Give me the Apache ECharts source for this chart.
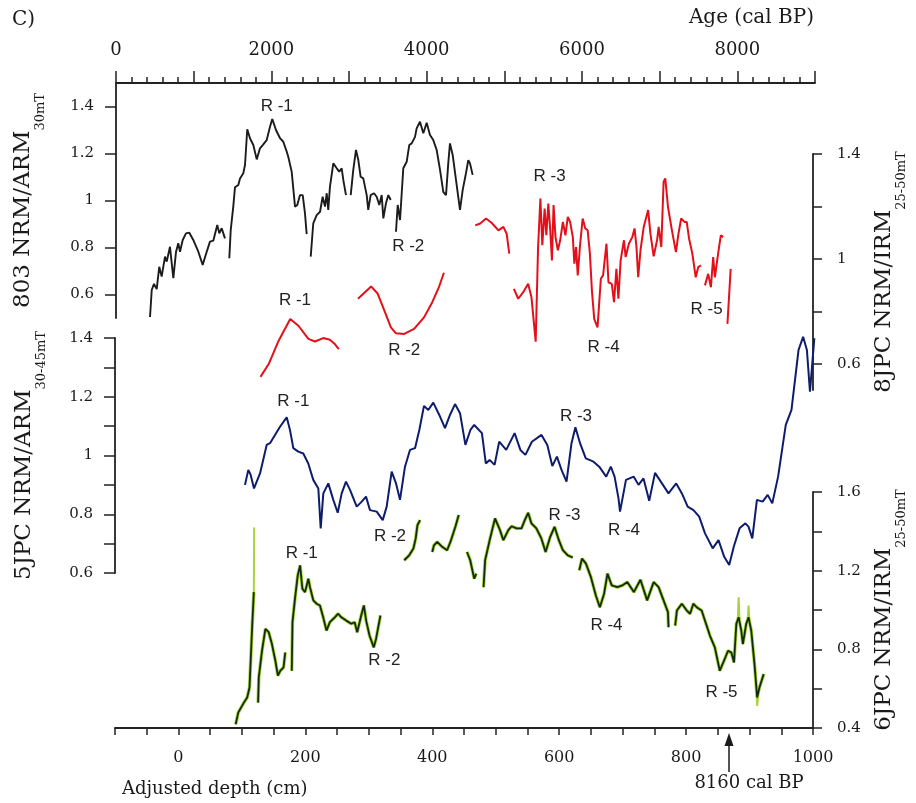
<!DOCTYPE html>
<html><head><meta charset="utf-8">
<script src="https://cdn.jsdelivr.net/npm/echarts@6/dist/echarts.min.js"></script>
<style>html,body{margin:0;padding:0;background:#fff}#c{width:916px;height:803px}</style>
</head><body><div id="c"></div>
<script>
// ---- tick values ----
const ageLabels = [0, 2000, 4000, 6000, 8000];
const depthLabels = [0, 200, 400, 600, 800, 1000];
const y803Ticks = [0.6, 0.8, 1, 1.2, 1.4];
const y8Ticks = [0.6, 0.8, 1, 1.2, 1.4];
const y8Labels = [0.6, 1, 1.4];
const y5Ticks = [0.6, 0.7, 0.8, 0.9, 1, 1.1, 1.2, 1.3, 1.4];
const y5Labels = [0.6, 0.8, 1, 1.2, 1.4];
const y6Ticks = [0.4, 0.6, 0.8, 1, 1.2, 1.4, 1.6];
const y6Labels = [0.4, 0.8, 1.2, 1.6];

// ---- 803 NRM/ARM30mT vs age (cal BP); null = gap ----
const core803 = [[438,0.504],[460,0.619],[489,0.645],[524,0.623],[557,0.718],[588,0.676],[631,0.761],[653,0.740],[695,0.803],[717,0.806],[738,0.670],[773,0.782],[802,0.818],[824,0.782],[859,0.832],[901,0.860],[944,0.863],[995,0.832],[1060,0.782],[1116,0.726],[1175,0.789],[1210,0.825],[1253,0.829],[1304,0.896],[1330,0.860],[1361,0.882],[1403,0.839],null,
[1459,0.754],[1477,0.874],[1510,0.974],[1532,1.056],[1575,1.066],[1597,1.094],[1639,1.116],[1661,1.151],[1690,1.303],[1725,1.265],[1768,1.236],[1812,1.175],[1854,1.222],[1889,1.236],[1940,1.257],[1983,1.314],[2012,1.347],[2060,1.300],[2112,1.265],[2154,1.250],[2198,1.208],[2218,1.186],[2262,1.123],[2305,0.974],[2334,0.981],[2369,1.023],[2404,1.023],[2433,0.946],[2455,0.857],null,
[2507,0.761],[2540,0.903],[2584,0.938],[2627,0.952],[2661,1.016],[2691,0.974],[2713,1.031],[2733,0.960],[2755,1.059],[2798,1.158],[2842,1.137],[2875,1.123],[2906,1.137],[2927,1.087],[2961,1.023],null,
[3022,1.023],[3055,1.130],[3090,1.215],[3120,1.172],[3150,1.101],[3184,1.094],[3228,1.023],[3248,0.960],[3279,1.023],[3322,1.031],[3356,1.016],[3390,0.981],[3421,1.023],[3442,0.924],[3476,0.988],[3506,1.023],[3537,1.002],null,
[3605,0.867],[3627,0.981],[3657,0.917],[3699,1.137],[3743,1.165],[3776,1.236],[3807,1.243],[3850,1.271],[3871,1.307],[3914,1.335],[3957,1.286],[4000,1.331],[4043,1.279],[4085,1.257],[4129,1.215],[4172,1.130],[4214,1.037],[4249,1.023],[4278,1.158],[4300,1.243],[4335,1.194],[4378,1.087],[4429,0.960],[4464,1.045],[4506,1.116],[4536,1.172],[4558,1.158],[4592,1.109]];

// ---- 8JPC NRM/IRM25-50mT vs age ----
const core8JPC = [[1876,0.550],[1983,0.599],[2112,0.688],[2240,0.758],[2262,0.771],[2369,0.745],[2498,0.695],[2584,0.685],[2691,0.698],[2777,0.692],[2842,0.675],[2893,0.656],null,
[3142,0.848],[3313,0.895],[3399,0.867],[3485,0.803],[3570,0.739],[3635,0.716],[3743,0.714],[3871,0.733],[4000,0.777],[4107,0.835],[4193,0.892],[4258,0.947],null,
[4665,1.128],[4729,1.135],[4806,1.154],[4880,1.137],[4966,1.109],[5030,1.122],[5073,1.096],[5107,1.020],null,
[5167,0.886],[5223,0.848],[5288,0.873],[5352,0.905],[5395,0.854],[5450,0.684],[5481,1.045],[5511,1.230],[5536,1.052],[5566,1.192],[5588,1.090],[5614,1.211],[5639,1.109],[5661,0.994],[5682,1.205],[5707,1.083],[5738,1.033],[5768,1.071],[5803,1.141],[5836,1.090],[5867,1.160],[5897,1.141],[5932,1.083],[5952,0.982],[5974,1.045],[5996,0.937],[6026,1.052],[6060,1.154],[6094,1.116],[6125,1.109],[6154,1.020],[6180,0.879],[6210,0.771],[6253,0.739],[6274,0.829],[6296,0.924],[6325,0.937],[6369,1.058],[6395,0.911],[6438,0.905],[6467,0.835],[6498,0.962],[6524,0.848],[6553,0.994],[6596,1.071],[6618,1.007],[6660,1.058],[6704,1.083],[6734,1.116],[6759,1.045],[6781,0.930],[6811,1.033],[6853,1.122],[6910,1.186],[6940,1.096],[6982,1.010],[7026,1.071],[7047,1.122],[7081,1.045],[7111,1.294],[7133,1.307],[7168,1.198],[7219,1.109],[7271,1.026],[7304,1.096],[7339,1.154],[7381,1.141],[7411,1.141],[7442,1.077],[7484,1.020],[7528,0.930],[7561,0.969],[7596,0.975],null,
[7648,0.899],[7690,0.943],[7725,0.892],[7755,1.007],[7777,0.930],[7819,1.020],[7854,1.090],[7884,1.083],null,
[7940,0.752],[7982,0.962]];

// ---- 5JPC NRM/ARM30-45mT vs adjusted depth (cm) ----
const core5JPC = [[103.1,0.900],[108.3,0.951],[112.0,0.934],[117.2,0.888],[126.6,0.939],[137.0,1.036],[142.2,1.042],[150.0,1.070],[157.8,1.098],[168.3,1.130],[173.4,1.087],[178.6,1.025],[186.4,1.013],[194.2,1.007],[202.0,0.973],[209.8,0.917],[217.7,0.888],[221.4,0.752],[225.5,0.871],[233.3,0.905],[241.1,0.849],[248.0,0.805],[254.2,0.871],[260.9,0.911],[267.2,0.883],[277.7,0.826],[285.5,0.843],[292.2,0.860],[298.4,0.814],[308.9,0.809],[318.3,0.780],[324.5,0.826],[332.3,0.945],[339.1,0.905],[345.3,0.849],[353.1,0.962],[360.9,1.019],[368.8,1.025],[375.5,1.087],[382.8,1.169],[389.5,1.155],[397.3,1.180],[406.7,1.138],[415.6,1.093],[423.4,1.138],[431.3,1.175],[439.1,1.144],[447.5,1.036],[455.3,1.087],[461.3,1.104],[473.3,1.076],[479.4,0.973],[485.3,0.985],[493.1,0.968],[500.3,1.047],[511.3,1.019],[524.4,1.076],[533.4,1.019],[541.3,1.002],[551.4,1.047],[566.4,1.070],[575.5,1.036],[583.3,0.964],[590.5,0.996],[597.7,0.951],[605.5,0.911],[613.3,1.042],[619.4,1.096],[626.6,1.042],[635.6,0.990],[647.7,0.979],[656.6,0.962],[667.5,0.928],[674.7,0.962],[680.6,0.928],[686.7,0.854],[689.1,0.809],[698.4,0.917],[710.6,0.928],[718.0,0.900],[725.8,0.922],[734.7,0.846],[743.8,0.941],[752.8,0.911],[764.8,0.871],[776.9,0.905],[785.8,0.871],[794.8,0.826],[803.9,0.814],[812.8,0.792],[821.9,0.735],[833.9,0.684],[843.0,0.712],[851.9,0.655],[859.7,0.627],[866.9,0.690],[875.9,0.752],[885.0,0.769],[889.8,0.758],[895.8,0.718],[903.0,0.849],[912.0,0.843],[919.8,0.866],[927.0,0.837],[936.1,0.928],[948.1,1.104],[957.0,1.155],[968.0,1.359],[975.2,1.404],[981.1,1.359],[985.9,1.217],[992.7,1.399]];

// ---- 6JPC NRM/IRM25-50mT vs adjusted depth (cm) ----
const core6JPC = [[90.2,0.419],[94.2,0.478],[103.1,0.529],[108.3,0.555],[112.0,0.606],[116.1,0.912],[118.8,1.091],null,
[125.5,0.529],[126.6,0.657],[131.7,0.793],[137.0,0.904],[142.2,0.887],[147.3,0.827],[152.7,0.742],[156.7,0.666],[160.5,0.691],[165.6,0.708],[168.3,0.784],null,
[178.6,0.691],[179.7,0.938],[183.9,1.065],[188.0,1.176],[191.7,1.227],[195.3,1.108],[199.5,1.091],[204.7,1.159],[207.3,1.116],[212.5,1.049],[217.7,1.032],[223.0,1.023],[228.1,0.963],[233.3,0.895],[238.6,0.938],[246.4,0.963],[251.6,0.981],[256.7,0.963],[264.5,0.946],[272.3,0.930],[277.7,0.938],[281.7,0.887],[288.0,0.972],[292.2,1.023],[295.8,0.946],[301.1,0.870],[307.8,0.810],[311.4,0.853],[318.3,0.972],null,
[355.8,1.253],[363.6,1.278],[370.3,1.313],[373.9,1.364],[376.6,1.431],[380.8,1.457],null,
[400.0,1.295],[402.7,1.329],[407.8,1.346],[415.6,1.321],[423.4,1.304],[428.6,1.346],[436.4,1.423],[441.7,1.483],null,
[454.7,1.295],[459.8,1.253],[466.1,1.159],[469.2,1.185],null,
[480.8,1.116],[483.3,1.253],[491.1,1.364],[498.9,1.466],[506.7,1.406],[512.0,1.355],[519.8,1.406],[525.0,1.426],[532.8,1.415],[540.6,1.415],[545.8,1.457],[551.1,1.494],[556.3,1.440],[564.1,1.415],[571.9,1.364],[578.6,1.295],[585.9,1.372],[592.7,1.423],[599.5,1.355],[605.8,1.304],[613.6,1.278],[621.4,1.267],null,
[631.7,1.202],[635.9,1.261],[642.2,1.236],[650.0,1.167],[657.8,1.074],[664.1,1.014],[670.8,1.083],[676.1,1.185],[682.8,1.125],[691.7,1.116],[699.5,1.125],[707.3,1.142],[717.7,1.091],[728.1,1.154],[738.6,1.049],[748.9,1.142],[756.7,1.116],[764.5,1.049],[771.4,0.989],[772.3,0.912],null,
[782.8,0.921],[785.5,0.997],[793.3,1.032],[801.1,0.997],[806.3,0.981],[811.4,1.032],[816.7,1.014],[824.5,0.997],[832.3,0.921],[837.5,0.870],[845.3,0.810],[853.1,0.691],[860.9,0.751],[866.1,0.793],[871.4,0.784],[875.5,0.733],[879.2,0.930],[882.8,0.963],[887.0,0.895],[889.5,0.827],[894.8,0.930],[898.4,0.963],[902.7,0.895],[907.8,0.725],[912.0,0.555],[915.6,0.606],[922.3,0.674]];
// light-green (individual measurement) excursions beyond the dark line
const core6JPCSpikes = [[118.8,1.091],[119.3,1.42],null,[881.5,0.95],[882.8,1.065],[884.5,0.93],null,[897.2,0.95],[898.4,1.023],[899.8,0.95],null,[910.8,0.60],[912.0,0.512],[913.4,0.56]];

// ---- R labels: [text, x, value] ----
const labels803 = [['R -1',2069,1.402],['R -2',3763,0.806]];
const labels8JPC = [['R -1',2324,0.841],['R -2',3743,0.650],['R -3',5630,1.316],['R -4',6331,0.662],['R -5',7670,0.806]];
const labels5JPC = [['R -1',178.6,1.183],['R -2',329.7,0.724],['R -3',620.3,1.134],['R -4',695.3,0.746],['R -5',842.7,0.582]];
const labels6JPC = [['R -1',194.2,1.287],['R -2',324.5,0.742],['R -3',608.3,1.483],['R -4',674.5,0.921],['R -5',855.8,0.580]];

const SERIF = 'DejaVu Serif';
const INK = '#1a1a1a';
const gapped = a => a.map(p => p ? p : ['-', '-']);
const marks = list => ({
  symbol: 'rect', symbolSize: 1, silent: true, animation: false,
  itemStyle: { color: 'rgba(0,0,0,0)' },
  label: { show: true, position: 'inside', formatter: '{b}', fontFamily: 'Liberation Sans', fontSize: 17, color: '#222' },
  data: list.map(l => ({ name: l[0], coord: [l[1], l[2]] }))
});
const nameRich = {
  a: { fontFamily: SERIF, fontSize: 23, color: INK, lineHeight: 24, verticalAlign: 'top' },
  b: { fontFamily: SERIF, fontSize: 13, color: INK, padding: [22, 0, 0, 0], verticalAlign: 'bottom' }
};
const axLine = { show: true, onZero: false, lineStyle: { color: '#222', width: 1.8 } };
const tickStyle = { color: '#222', width: 1.5 };
const lblStyle = (size, margin, values) => ({ show: true, fontFamily: SERIF, fontSize: size, color: INK, margin: margin,
  customValues: values, formatter: v => String(+v.toFixed(2)) });
const hiddenX = (grid, min, max) => ({ type: 'value', gridIndex: grid, min: min, max: max, show: false,
  axisLine: { onZero: false }, splitLine: { show: false } });

const option = {
  animation: false,
  backgroundColor: '#fff',
  grid: [
    { left: 116, right: 101, top: 83, height: 235 },
    { left: 116, right: 97, top: 154, height: 236 },
    { left: 115, right: 97, top: 338, height: 235 },
    { left: 115, right: 97, top: 492, height: 236 }
  ],
  xAxis: [
    { type: 'value', gridIndex: 0, position: 'top', min: 0, max: 9000, interval: 1000,
      axisLine: axLine, axisTick: { show: true, length: 12, lineStyle: tickStyle },
      minorTick: { show: true, splitNumber: 5, length: 6, lineStyle: tickStyle },
      axisLabel: lblStyle(18, 24, ageLabels), splitLine: { show: false }, minorSplitLine: { show: false } },
    hiddenX(1, 0, 9051),
    hiddenX(2, -100, 1000),
    { type: 'value', gridIndex: 3, position: 'bottom', min: -100, max: 1000, interval: 50,
      axisLine: axLine, axisTick: { show: true, length: 7, lineStyle: tickStyle },
      axisLabel: lblStyle(16, 22, depthLabels), splitLine: { show: false } }
  ],
  yAxis: [
    { type: 'value', gridIndex: 0, position: 'left', min: 0.5, max: 1.5,
      axisLine: axLine, axisTick: { show: true, length: 11, lineStyle: tickStyle, customValues: y803Ticks },
      axisLabel: lblStyle(15, 22, y803Ticks), splitLine: { show: false },
      name: '{a|803 NRM/ARM}{b|30mT}', nameLocation: 'middle', nameRotate: 90, nameGap: 69,
      nameTextStyle: { rich: nameRich } },
    { type: 'value', gridIndex: 1, position: 'right', min: 0.5, max: 1.4,
      axisLine: axLine, axisTick: { show: true, length: 9, lineStyle: tickStyle, customValues: y8Ticks },
      axisLabel: lblStyle(15, 24, y8Labels), splitLine: { show: false },
      name: '{a|8JPC NRM/IRM}{b|25-50mT}', nameLocation: 'middle', nameRotate: 90, nameGap: 60,
      nameTextStyle: { rich: nameRich } },
    { type: 'value', gridIndex: 2, position: 'left', min: 0.6, max: 1.4,
      axisLine: axLine, axisTick: { show: true, length: 11, lineStyle: tickStyle, customValues: y5Ticks },
      axisLabel: lblStyle(15, 22, y5Labels), splitLine: { show: false },
      name: '{a|5JPC NRM/ARM}{b|30-45mT}', nameLocation: 'middle', nameRotate: 90, nameGap: 67,
      nameTextStyle: { rich: nameRich } },
    { type: 'value', gridIndex: 3, position: 'right', min: 0.4, max: 1.6,
      axisLine: axLine, axisTick: { show: true, length: 9, lineStyle: tickStyle, customValues: y6Ticks },
      axisLabel: lblStyle(15, 24, y6Labels), splitLine: { show: false },
      name: '{a|6JPC NRM/IRM}{b|25-50mT}', nameLocation: 'middle', nameRotate: 90, nameGap: 60,
      nameTextStyle: { rich: nameRich } }
  ],
  series: [
    { type: 'line', name: '803', xAxisIndex: 0, yAxisIndex: 0, data: gapped(core803), showSymbol: false, clip: false,
      lineStyle: { color: '#1c1c1c', width: 1.9 }, markPoint: marks(labels803) },
    { type: 'line', name: '8JPC', xAxisIndex: 1, yAxisIndex: 1, data: gapped(core8JPC), showSymbol: false, clip: false,
      lineStyle: { color: '#e3101a', width: 2 }, markPoint: marks(labels8JPC) },
    { type: 'line', name: '5JPC', xAxisIndex: 2, yAxisIndex: 2, data: gapped(core5JPC), showSymbol: false, clip: false,
      lineStyle: { color: '#0e1c6e', width: 2 }, markPoint: marks(labels5JPC) },
    { type: 'line', name: '6JPC light', xAxisIndex: 3, yAxisIndex: 3, data: gapped(core6JPC), showSymbol: false, clip: false,
      lineStyle: { color: '#a9d23c', width: 3.4 } },
    { type: 'line', name: '6JPC spikes', xAxisIndex: 3, yAxisIndex: 3, data: gapped(core6JPCSpikes), showSymbol: false, clip: false,
      lineStyle: { color: '#a9d23c', width: 2 } },
    { type: 'line', name: '6JPC', xAxisIndex: 3, yAxisIndex: 3, data: gapped(core6JPC), showSymbol: false, clip: false,
      lineStyle: { color: '#102c10', width: 1.8 }, markPoint: marks(labels6JPC) }
  ],
  graphic: [
    { type: 'text', x: 12, y: 20, style: { text: 'C)', font: '20px "DejaVu Serif"', fill: INK, textVerticalAlign: 'middle' } },
    { type: 'text', x: 814, y: 18, style: { text: 'Age (cal BP)', font: '20px "DejaVu Serif"', fill: INK, textAlign: 'right', textVerticalAlign: 'middle' } },
    { type: 'text', x: 122, y: 789, style: { text: 'Adjusted depth (cm)', font: '18px "DejaVu Serif"', fill: INK, textVerticalAlign: 'middle' } },
    { type: 'text', x: 749, y: 783, style: { text: '8160 cal BP', font: '18px "DejaVu Serif"', fill: INK, textAlign: 'center', textVerticalAlign: 'middle' } },
    { type: 'line', shape: { x1: 729, y1: 743, x2: 729, y2: 772 }, style: { stroke: INK, lineWidth: 1.5 } },
    { type: 'polygon', shape: { points: [[729, 733], [724.5, 746], [733.5, 746]] }, style: { fill: INK } }
  ]
};
const chart = echarts.init(document.getElementById('c'), null, { renderer: 'canvas' });
chart.setOption(option);
</script></body></html>
